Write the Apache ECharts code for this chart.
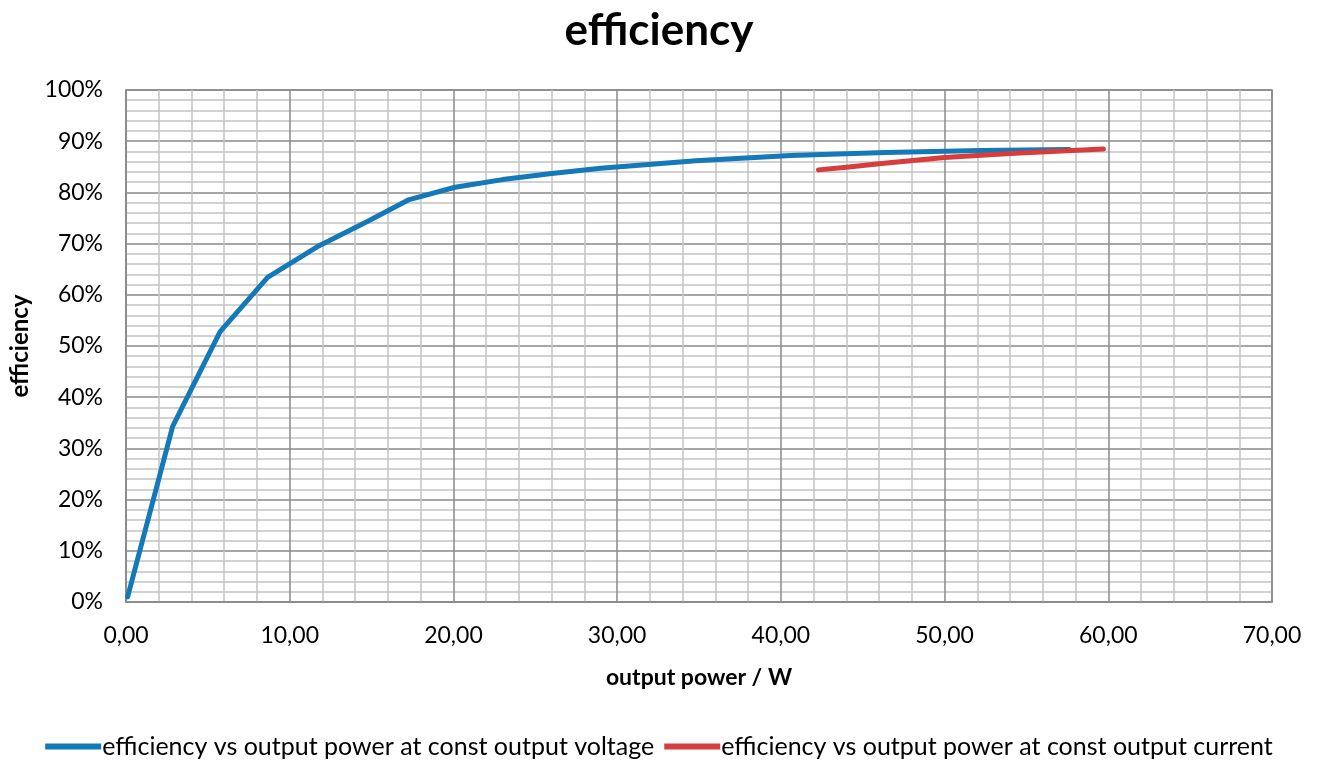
<!DOCTYPE html>
<html><head><meta charset="utf-8">
<script src="https://cdn.jsdelivr.net/npm/echarts@6/dist/echarts.min.js"></script>
<style>html,body{margin:0;padding:0;background:#fff}#c{width:1318px;height:764px}</style>
</head><body><div id="c"></div>
<script>
const seriesNames = ['efficiency vs output power at const output voltage','efficiency vs output power at const output current'];
const voltagePower = [0.1, 2.85, 5.75, 8.65, 11.8, 14.8, 17.3, 20.1, 23.0, 26.0, 29.0, 34.8, 40.6, 46.4, 52.2, 57.6];
const voltageEff   = [1.0, 34.3, 52.8, 63.4, 69.6, 74.4, 78.6, 81.0, 82.5, 83.7, 84.7, 86.2, 87.2, 87.8, 88.2, 88.4];
const currentPower = [42.3, 44.0, 46.0, 50.0, 54.0, 59.7];
const currentEff   = [84.4, 84.9, 85.6, 86.8, 87.6, 88.5];
const xTicks = {min:0, max:70, interval:10};
const yTicks = {min:0, max:100, interval:10};

const font = 'Lato, "Open Sans", sans-serif';
const chart = echarts.init(document.getElementById('c'));
chart.setOption({
  animation:false,
  title:{text:'efficiency', left:'center', top:4, textStyle:{fontFamily:font, fontSize:44, fontWeight:'bold', color:'#000'}},
  grid:{left:126, right:46, top:90, bottom:162, show:true, borderColor:'#8a8a8a', borderWidth:1.5, outerBoundsMode:'none', containLabel:false},
  legend:{bottom:0, left:'center', itemWidth:56, itemHeight:6, itemGap:10,
    textStyle:{fontFamily:font, fontSize:25, color:'#000', padding:[0,0,0,-4]},
    data:seriesNames.map(n=>({name:n, icon:'path://M0,0H56V6H0Z'}))},
  xAxis:{type:'value', min:xTicks.min, max:xTicks.max, interval:xTicks.interval,
    name:'output power / W', nameLocation:'middle', nameGap:64,
    nameTextStyle:{fontFamily:font, fontSize:23, fontWeight:'bold', color:'#000'},
    axisLine:{show:true, lineStyle:{color:'#8a8a8a', width:1.5}}, axisTick:{show:false},
    axisLabel:{fontFamily:font, fontSize:23, color:'#000', margin:22, formatter:v=>v.toFixed(2).replace('.',',')},
    splitLine:{show:true, lineStyle:{color:'#8a8a8a', width:1.5}},
    minorTick:{show:false, splitNumber:5},
    minorSplitLine:{show:true, lineStyle:{color:'#c4c4c4', width:1.5}}},
  yAxis:{type:'value', min:yTicks.min, max:yTicks.max, interval:yTicks.interval,
    name:'efficiency', nameLocation:'middle', nameGap:94, nameRotate:90,
    nameTextStyle:{fontFamily:font, fontSize:24, fontWeight:'bold', color:'#000'},
    axisLine:{show:true, lineStyle:{color:'#8a8a8a', width:1.5}}, axisTick:{show:false},
    axisLabel:{fontFamily:font, fontSize:23, color:'#000', margin:23, formatter:'{value}%'},
    splitLine:{show:true, lineStyle:{color:'#8a8a8a', width:1.5}},
    minorTick:{show:false, splitNumber:5},
    minorSplitLine:{show:true, lineStyle:{color:'#c4c4c4', width:1.5}}},
  series:[
    {name:seriesNames[0], type:'line', showSymbol:false, symbol:'none', color:'#1479b8',
      lineStyle:{width:5, color:'#1479b8', cap:'round', join:'round'},
      data:voltagePower.map((x,i)=>[x, voltageEff[i]])},
    {name:seriesNames[1], type:'line', showSymbol:false, symbol:'none', color:'#d63d3d',
      lineStyle:{width:5, color:'#d63d3d', cap:'round', join:'round'},
      data:currentPower.map((x,i)=>[x, currentEff[i]])}
  ]
});
</script></body></html>
